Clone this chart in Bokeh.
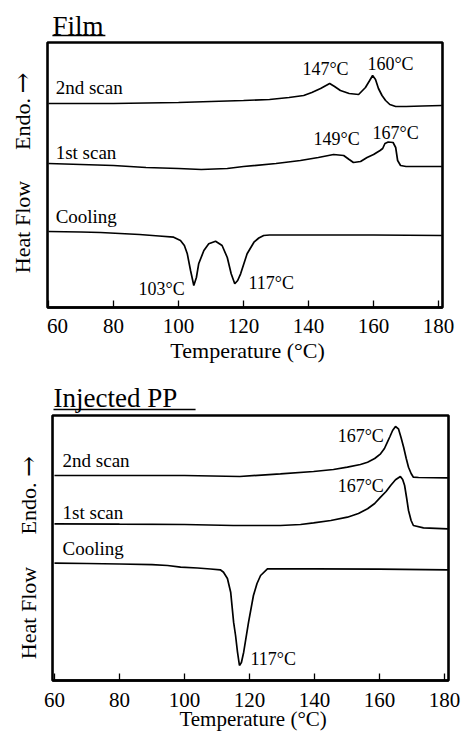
import math
from bokeh.plotting import figure
from bokeh.layouts import column
from bokeh.models import Range1d, FixedTicker, BoxAnnotation, LinearAxis
from bokeh.core.properties import value
from bokeh.embed import file_html
from bokeh.resources import INLINE

FONT = value("Liberation Serif")

# ---------------- data: Film ----------------
film_scan2_T = [60, 80, 100, 120, 128, 134, 138.5, 141, 143.7, 146.5, 148, 149.8, 152.5, 155.4,
                157.5, 158.8, 159.7, 160.6, 161.5, 162.6, 163.7, 165, 166.8, 170, 175, 181]
film_scan2_hf = [204, 204, 205, 207, 208, 210, 212, 215, 219, 224, 221, 217, 214, 213,
                 220, 227, 232, 228, 219, 212, 207, 203, 201, 201, 201.5, 202]

film_scan1_T = [60, 70, 80, 90, 100, 107, 115, 120, 130, 137.5, 143, 147.7, 150.8, 152.5, 153.8,
                156, 158, 160, 162, 162.8, 163.5, 164.5, 166, 166.8, 167.4, 168.3, 170, 175, 181]
film_scan1_hf = [144, 143, 142, 140, 139, 138, 139, 141, 144, 147, 150, 153, 152, 148, 145,
                 146, 150, 153, 157, 159, 164, 165.5, 165, 160, 147, 142, 141, 141, 141]

film_cool_T = [60, 70, 76, 82, 88, 94, 98.5, 100.6, 101.8, 102.7, 103.7, 104.7, 105.5, 106.2,
               107.8, 109.3, 111.4, 113.4, 115, 116.2, 117.3, 118.2, 119.1, 121.1, 123.2, 124.7,
               126.2, 128, 140, 160, 181]
film_cool_hf = [76, 75.5, 75, 74, 73, 71.5, 70.3, 67, 62, 53.7, 37, 22, 30, 43.7,
                57, 63.7, 66.3, 62, 50, 33.7, 23.7, 27, 33.7, 53.7, 65.3, 69.5,
                72, 72.5, 72.5, 72.5, 72]

# ---------------- data: Injected PP ----------------
pp_scan2_T = [60, 80, 100, 117, 129.5, 139.7, 145.8, 150.1, 154.1, 156.3, 158.5, 160.3, 161.5,
              162.4, 163.2, 164, 164.9, 165.8, 166.6, 167.4, 168.2, 168.9, 169.7, 170.4, 172, 181]
pp_scan2_hf = [205, 205, 205, 204, 206.7, 209, 211, 213.3, 216, 218.3, 222, 226.7, 232,
               238.3, 244, 250, 254, 251.7, 243, 233.3, 222, 213.3, 207, 203.3, 203, 202.7]

pp_scan1_T = [60, 80, 100, 115, 129.5, 135.7, 139.7, 145, 150.1, 153.5, 156.3, 158.5, 160.3,
              162, 163.4, 164.9, 166.4, 167.1, 167.7, 168.3, 168.9, 169.7, 170.4, 173.5, 181]
pp_scan1_hf = [156.7, 156.3, 156, 155, 155, 156, 157.7, 160, 163.3, 167, 171.7, 177, 183.3,
               189, 195, 200.7, 204, 201, 195, 183, 170, 160, 155, 152.7, 151.7]

pp_cool_T = [60, 70, 80, 90, 94.8, 98.8, 104, 108, 111, 112, 113.2, 114.2, 115.1, 115.7, 116.3,
             116.9, 117.5, 118.2, 119.7, 121.2, 122.3, 123.4, 125.5, 130, 140, 160, 181]
pp_cool_hf = [117.3, 117, 116.5, 115.8, 115, 113.3, 112.5, 111.5, 110.7, 108.3, 102, 88.3, 58.3,
              45, 28.3, 15, 18, 28.3, 58.3, 85, 97, 105, 111.7, 111.7, 111.7, 111.3, 110.7]

x_ticks = [60, 80, 100, 120, 140, 160, 180]
x_tick_labels = ["60", "80", "100", "120", "140", "160", "180"]
x_label = "Temperature (°C)"
curve_names = ["2nd scan", "1st scan", "Cooling"]

film_peak_text = ["147°C", "160°C", "149°C", "167°C", "103°C", "117°C"]
pp_peak_text = ["167°C", "167°C", "117°C"]


def make_panel(title, curves, name_pos, peak_text, peak_pos, xr, box, yr, height,
               title_pos, underline_end, ylab_x, ylab_ys, tick_label_y, tick_x_offsets,
               axis_label_y, axis_label_size):
    p = figure(width=464, height=height, x_range=Range1d(*xr), y_range=Range1d(*yr),
               output_backend="svg", toolbar_location=None, y_axis_location=None,
               x_axis_location=None,
               min_border_left=0, min_border_right=0, min_border_top=0, min_border_bottom=0)
    p.outline_line_color = None
    p.background_fill_color = "white"
    p.border_fill_color = "white"
    p.grid.visible = False

    # panel frame
    p.add_layout(BoxAnnotation(left=box[0], right=box[1], bottom=0, top=box[2],
                               fill_alpha=0, fill_color=None, line_color="black",
                               line_alpha=1, line_width=2.6))

    for T, hf in curves:
        p.line(T, hf, line_color="black", line_width=1.7)

    # curve names
    p.text(x=[name_pos[0]] * 3, y=name_pos[1], text=curve_names, text_font=FONT,
           text_font_size="19px", text_align="left", text_baseline="middle", text_color="black")
    # peak labels
    p.text(x=[q[0] for q in peak_pos], y=[q[1] for q in peak_pos], text=peak_text,
           text_font=FONT, text_font_size="18px", text_align="left", text_baseline="middle",
           text_color="black")
    # title with underline
    p.text(x=[title_pos[0]], y=[title_pos[1]], text=[title], text_font=FONT,
           text_font_size="27px", text_align="left", text_baseline="middle", text_color="black")
    p.segment(x0=[title_pos[0]], y0=[title_pos[2]], x1=[underline_end], y1=[title_pos[2]],
              line_color="black", line_width=1.3)
    # rotated y label: "Heat Flow", "Endo.", arrow
    p.text(x=[ylab_x, ylab_x], y=[ylab_ys[0], ylab_ys[1]], text=["Heat Flow", "Endo."],
           angle=math.pi / 2, text_font=FONT, text_font_size="22px", text_align="center",
           text_baseline="middle", text_color="black")
    p.text(x=[ylab_x], y=[ylab_ys[2]], text=["→"], angle=math.pi / 2,
           text_font=value("DejaVu Serif"), text_font_size="25px", text_align="center",
           text_baseline="middle", text_color="black")

    # temperature axis: line and inward ticks along the bottom of the panel frame
    ax = LinearAxis(fixed_location=0, ticker=FixedTicker(ticks=[], minor_ticks=x_ticks),
                    bounds=(box[0], box[1]))
    ax.axis_line_color = "black"
    ax.axis_line_width = 2.6
    ax.major_tick_line_color = None
    ax.minor_tick_in = 7
    ax.minor_tick_out = 0
    ax.minor_tick_line_color = "black"
    ax.minor_tick_line_width = 1.3
    p.add_layout(ax, "below")

    # tick labels and axis title in the same serif face as the rest of the figure
    p.text(x=x_ticks, y=[tick_label_y] * len(x_ticks), text=x_tick_labels,
           x_offset=tick_x_offsets, text_font=FONT, text_font_size="21px",
           text_align="center", text_baseline="middle", text_color="black")
    p.text(x=[(box[0] + box[1]) / 2 + 0.8], y=[axis_label_y], text=[x_label], text_font=FONT,
           text_font_size=axis_label_size, text_align="center", text_baseline="middle",
           text_color="black")
    return p


p1 = make_panel(
    "Film",
    [(film_scan2_T, film_scan2_hf), (film_scan1_T, film_scan1_hf), (film_cool_T, film_cool_hf)],
    (62.2, [220, 155, 91]),
    film_peak_text,
    [(138.1, 239), (158.1, 244), (141.5, 169), (159.7, 175), (87.7, 19), (121.5, 25)],
    (45.24, 187.97), (59.7, 181.2, 265), (-59, 307), 366,
    (61.2, 282, 272), 77.5, 52.0, (80.5, 183.5, 224.5), -18, [9, 0, 0, 0, 0, 0, 0],
    -43, "22px")

p2 = make_panel(
    "Injected  PP",
    [(pp_scan2_T, pp_scan2_hf), (pp_scan1_T, pp_scan1_hf), (pp_cool_T, pp_cool_hf)],
    (62.5, [220, 168, 132]),
    pp_peak_text,
    [(147.1, 245), (147.1, 195), (120.3, 22)],
    (43.4, 186.12), (59.4, 181.2, 265), (-52, 314), 366,
    (59.7, 283, 271), 103.4, 52.0, (67.5, 172, 214), -19, [0, 0, 0, 0, 0, 0, 0],
    -38, "21px")

layout = column(p1, p2, spacing=0)
open("out.html", "w").write(file_html(layout, INLINE))
